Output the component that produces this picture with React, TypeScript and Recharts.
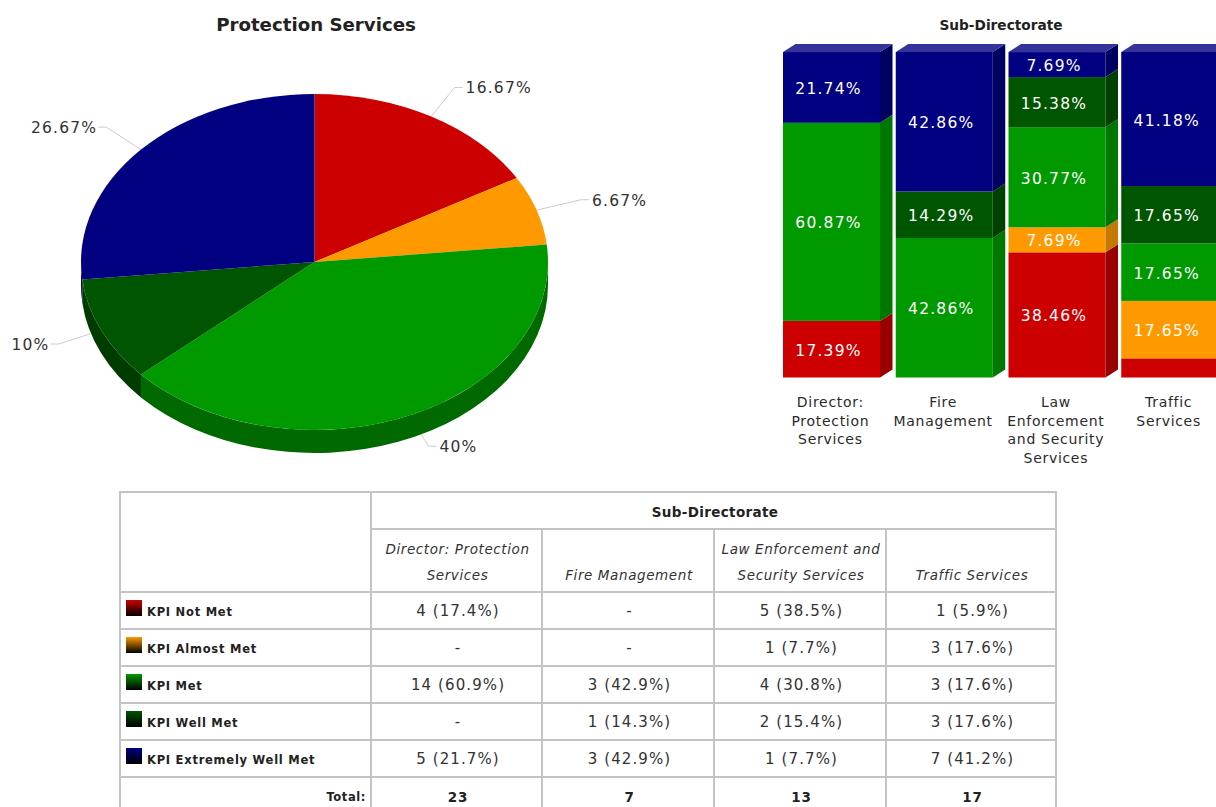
import { Bar, BarChart, LabelList, Pie, PieChart, XAxis, YAxis } from "recharts";

// overall KPI split, share of the 60 KPIs
const kpiNames = ["KPI Not Met", "KPI Almost Met", "KPI Met", "KPI Well Met", "KPI Extremely Well Met"];
const pieShares = [16.67, 6.67, 40, 10, 26.67];

const topColors = ["#cc0000", "#ff9900", "#009900", "#005500", "#000080"];
const wallColors = ["#880000", "#b06a00", "#006a00", "#003c00", "#000058"];
const sideColors = ["#990000", "#c47a00", "#007700", "#004000", "#000060"];

// stacked bars, one list per KPI level
const subDirectorates = [
  "Director: Protection Services",
  "Fire Management",
  "Law Enforcement and Security Services",
  "Traffic Services",
];
const tickLines = [
  ["Director:", "Protection", "Services"],
  ["Fire", "Management"],
  ["Law", "Enforcement", "and Security", "Services"],
  ["Traffic", "Services"],
];
const notMet = [17.39, null, 38.46, 5.88];
const almostMet = [null, null, 7.69, 17.65];
const met = [60.87, 42.86, 30.77, 17.65];
const wellMet = [null, 14.29, 15.38, 17.65];
const extremelyMet = [21.74, 42.86, 7.69, 41.18];

// table cells as printed
const tableRows = [
  ["4 (17.4%)", "-", "5 (38.5%)", "1 (5.9%)"],
  ["-", "-", "1 (7.7%)", "3 (17.6%)"],
  ["14 (60.9%)", "3 (42.9%)", "4 (30.8%)", "3 (17.6%)"],
  ["-", "1 (14.3%)", "2 (15.4%)", "3 (17.6%)"],
  ["5 (21.7%)", "3 (42.9%)", "1 (7.7%)", "7 (41.2%)"],
];
const tableTotals = ["23", "7", "13", "17"];

const pieData = kpiNames.map((name, i) => ({ name, value: pieShares[i], fill: topColors[i], index: i }));
const barSeries = [notMet, almostMet, met, wellMet, extremelyMet];
const barKeys = ["notMet", "almostMet", "met", "wellMet", "extremelyMet"];
const barData = subDirectorates.map((name, c) => {
  const row: any = { name, c };
  barKeys.forEach((k, s) => (row[k] = barSeries[s][c]));
  return row;
});

const FONT = "'DejaVu Sans', sans-serif";
const SQUASH = 0.7195;
const DEPTH = 23;
const BAR_DX = 12.5;
const BAR_DY = 8;

function pt(p: any, a: number) {
  const r = (a * Math.PI) / 180;
  return { x: p.cx + p.outerRadius * Math.cos(r), y: p.cy - p.outerRadius * SQUASH * Math.sin(r) };
}

function TopSlice(p: any) {
  const rx = p.outerRadius;
  const ry = rx * SQUASH;
  const a = pt(p, p.startAngle);
  const b = pt(p, p.endAngle);
  const large = Math.abs(p.startAngle - p.endAngle) > 180 ? 1 : 0;
  return <path d={`M${p.cx},${p.cy} L${a.x},${a.y} A${rx},${ry} 0 ${large} 1 ${b.x},${b.y} Z`} fill={p.fill} />;
}

// leader line first so the wall and the top face sit over its inner end
function WallSlice(p: any) {
  const rx = p.outerRadius;
  const ry = rx * SQUASH;
  const i = pieData.findIndex((d) => d.name === p.name);
  const mid = (p.startAngle + p.endAngle) / 2;
  const e = pt(p, mid);
  const k = pt({ ...p, outerRadius: rx * 1.2 }, mid);
  const dir = k.x > p.cx ? 1 : -1;

  const t0 = Math.max(90, 90 - p.startAngle);
  const t1 = Math.min(270, 90 - p.endAngle);
  let wall = null;
  if (t0 < t1) {
    const a = pt(p, 90 - t0);
    const b = pt(p, 90 - t1);
    wall = (
      <path
        d={`M${a.x},${a.y} A${rx},${ry} 0 0 1 ${b.x},${b.y} L${b.x},${b.y + DEPTH} A${rx},${ry} 0 0 0 ${a.x},${a.y + DEPTH} Z`}
        fill={wallColors[i]}
      />
    );
  }
  return (
    <g>
      <polyline
        points={`${e.x},${e.y} ${k.x},${k.y} ${k.x + dir * 8},${k.y}`}
        fill="none"
        stroke="#cccccc"
        strokeWidth={1}
      />
      {wall}
    </g>
  );
}

function PieText(p: any) {
  const rx = p.outerRadius * 1.2;
  const r = (p.midAngle * Math.PI) / 180;
  const x = p.cx + rx * Math.cos(r);
  const y = p.cy - rx * SQUASH * Math.sin(r);
  const right = x > p.cx;
  return (
    <text
      x={x + (right ? 11 : -9)}
      y={y + 6}
      textAnchor={right ? "start" : "end"}
      fontFamily={FONT}
      fontSize={15.5}
      letterSpacing={1.2}
      fill="#333333"
    >
      {`${p.value}%`}
    </text>
  );
}

function Block(p: any, s: number) {
  const { x, y, width, height } = p;
  if (!height) return <g />;
  return (
    <g>
      <rect x={x} y={y} width={width} height={height} fill={topColors[s]} />
      <path
        d={`M${x + width},${y} l${BAR_DX},${-BAR_DY} v${height} l${-BAR_DX},${BAR_DY} Z`}
        fill={sideColors[s]}
      />
      {s === 4 && <path d={`M${x},${y} l${BAR_DX},${-BAR_DY} h${width} l${-BAR_DX},${BAR_DY} Z`} fill="#333399" />}
    </g>
  );
}

function BlockLabel(p: any) {
  const { x, y, width, height, value } = p;
  // the 5.88% slice is left unlabelled
  if (value == null || value < 7) return null;
  return (
    <text
      x={x + width / 2 - 3}
      y={y + height / 2 + 6.5}
      textAnchor="middle"
      fontFamily={FONT}
      fontSize={15.5}
      letterSpacing={1.2}
      fill="#ffffff"
    >
      {`${value}%`}
    </text>
  );
}

function BarTick(p: any) {
  const lines = tickLines[p.index];
  return (
    <text textAnchor="middle" fontFamily={FONT} fontSize={14} letterSpacing={0.7} fill="#2b2b2b">
      {lines.map((l, i) => (
        <tspan key={l} x={p.x - 1} y={407 + i * 18.5}>
          {l}
        </tspan>
      ))}
    </text>
  );
}

const cell: any = {
  border: "2px solid #c4c4c4",
  padding: 0,
  paddingLeft: 3,
  textAlign: "center",
  fontFamily: FONT,
  fontSize: 15,
  letterSpacing: 1.1,
  color: "#333333",
};
const colWidths = [251, 171, 172, 172, 170];

function KpiTable() {
  return (
    <table
      style={{
        position: "absolute",
        left: 119,
        top: 491,
        width: 937,
        tableLayout: "fixed",
        borderCollapse: "collapse",
      }}
    >
      <colgroup>
        {colWidths.map((w, i) => (
          <col key={i} style={{ width: w }} />
        ))}
      </colgroup>
      <tbody>
        <tr style={{ height: 37 }}>
          <td rowSpan={2} style={cell} />
          <td
            colSpan={4}
            style={{ ...cell, fontWeight: 700, fontSize: 13.5, letterSpacing: 0.35, paddingTop: 2, color: "#222" }}
          >
            Sub-Directorate
          </td>
        </tr>
        <tr style={{ height: 63 }}>
          {subDirectorates.map((n) => (
            <td
              key={n}
              style={{
                ...cell,
                fontStyle: "italic",
                fontSize: 13.5,
                letterSpacing: 0.6,
                lineHeight: "26px",
                verticalAlign: "bottom",
                paddingBottom: 3,
                paddingLeft: 3,
                paddingRight: 1,
              }}
            >
              {n}
            </td>
          ))}
        </tr>
        {tableRows.map((row, r) => (
          <tr key={r} style={{ height: 37 }}>
            <td
              style={{
                ...cell,
                textAlign: "left",
                fontWeight: 700,
                fontSize: 11.5,
                letterSpacing: 0.75,
                paddingLeft: 0,
                paddingBottom: 2,
                color: "#222",
              }}
            >
              <span
                style={{
                  display: "inline-block",
                  width: 16,
                  height: 16,
                  margin: "0 5px 0 5px",
                  verticalAlign: 0,
                  background: `linear-gradient(${topColors[r]}, #000000)`,
                }}
              />
              {kpiNames[r]}
            </td>
            {row.map((v, c) => (
              <td key={c} style={cell}>
                {v}
              </td>
            ))}
          </tr>
        ))}
        <tr style={{ height: 37 }}>
          <td
            style={{
              ...cell,
              textAlign: "right",
              fontWeight: 700,
              fontSize: 11.5,
              letterSpacing: 0.6,
              paddingRight: 4,
              paddingTop: 2,
              color: "#222",
            }}
          >
            Total:
          </td>
          {tableTotals.map((v, c) => (
            <td key={c} style={{ ...cell, fontWeight: 700, fontSize: 13.5, letterSpacing: 0.8, paddingTop: 2, color: "#222" }}>
              {v}
            </td>
          ))}
        </tr>
      </tbody>
    </table>
  );
}

export default function App() {
  return (
    <div style={{ position: "fixed", left: 0, top: 0, width: 1216, height: 807, overflow: "hidden", background: "#fff" }}>
      <div
        style={{
          position: "absolute",
          left: 116,
          top: 14,
          width: 400,
          textAlign: "center",
          fontFamily: FONT,
          fontWeight: 700,
          fontSize: 18.2,
          color: "#222",
        }}
      >
        Protection Services
      </div>
      <div
        style={{
          position: "absolute",
          left: 851,
          top: 17,
          width: 300,
          textAlign: "center",
          fontFamily: FONT,
          fontWeight: 700,
          fontSize: 13.7,
          color: "#222",
        }}
      >
        Sub-Directorate
      </div>

      <div style={{ position: "absolute", left: 0, top: 0 }}>
        <PieChart width={700} height={480} margin={{ top: 0, right: 0, bottom: 0, left: 0 }}>
          <Pie
            data={pieData}
            dataKey="value"
            cx={314.5}
            cy={262}
            outerRadius={233.5}
            startAngle={90}
            endAngle={-270}
            stroke="none"
            isAnimationActive={false}
            shape={WallSlice}
            labelLine={false}
            label={false}
          />
          <Pie
            data={pieData}
            dataKey="value"
            cx={314.5}
            cy={262}
            outerRadius={233.5}
            startAngle={90}
            endAngle={-270}
            stroke="none"
            isAnimationActive={false}
            shape={TopSlice}
            labelLine={false}
            label={PieText}
          />
        </PieChart>
      </div>

      <div style={{ position: "absolute", left: 775, top: 0 }}>
        <BarChart
          width={451}
          height={480}
          data={barData}
          margin={{ top: 52, right: 0, bottom: 0, left: 0 }}
          barSize={97}
        >
          <XAxis
            dataKey="name"
            height={102.5}
            axisLine={false}
            tickLine={false}
            interval={0}
            tick={BarTick}
          />
          <YAxis hide domain={[0, 100]} />
          {barKeys.map((k, s) => (
            <Bar key={k} dataKey={k} stackId="a" isAnimationActive={false} shape={(p: any) => Block(p, s)}>
              <LabelList dataKey={k} content={BlockLabel} />
            </Bar>
          ))}
        </BarChart>
      </div>

      <KpiTable />
    </div>
  );
}
